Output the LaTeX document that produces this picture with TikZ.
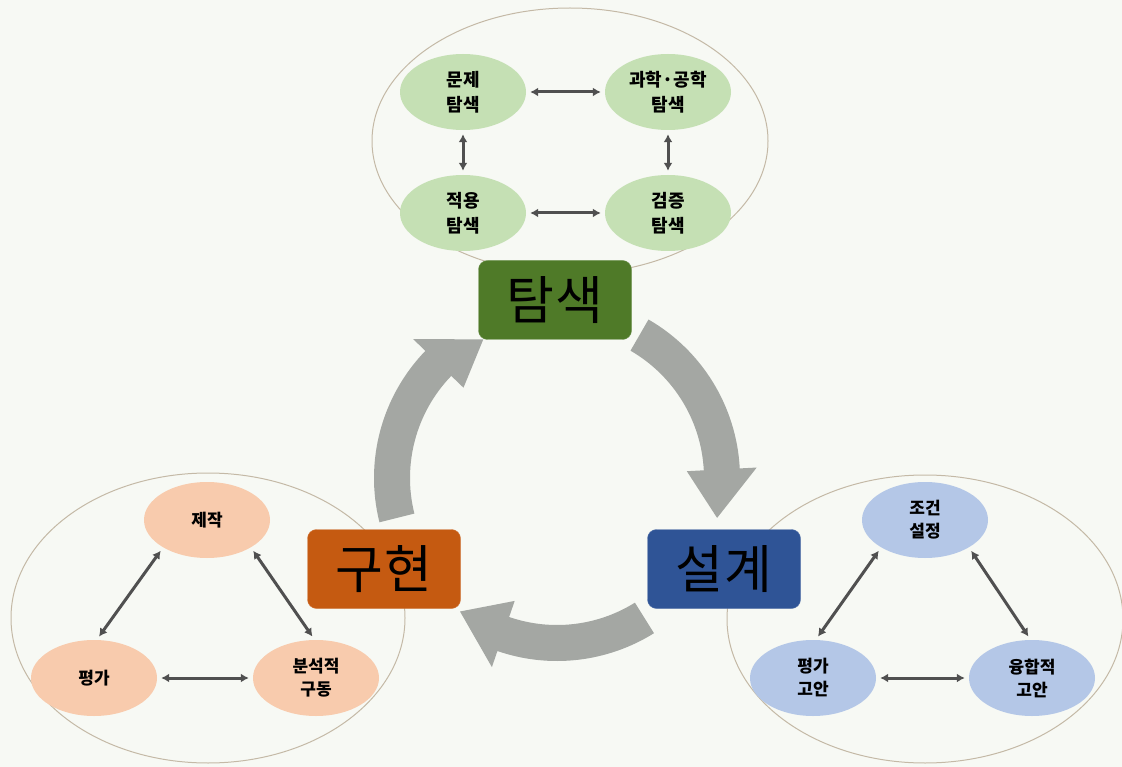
\documentclass[tikz,border=0pt]{standalone}
\usepackage{fontspec}
\setmainfont{Noto Sans CJK KR}
\usetikzlibrary{shapes.geometric,arrows.meta,calc}
\definecolor{bg}{HTML}{F7F9F4}
\definecolor{ring}{HTML}{C4B9A6}
\definecolor{subgreen}{HTML}{C5E0B4}
\definecolor{subpeach}{HTML}{F8CBAD}
\definecolor{subblue}{HTML}{B4C7E7}
\definecolor{boxgreen}{HTML}{4F7A28}
\definecolor{boxorange}{HTML}{C55A11}
\definecolor{boxblue}{HTML}{2F5496}
\definecolor{cyc}{HTML}{A4A7A3}
\definecolor{link}{HTML}{505050}
\tikzset{
  sub/.style={ellipse, minimum width=126pt, minimum height=76pt, inner sep=0pt, align=center,
    font=\bfseries\fontsize{18}{25}\selectfont},
  subs/.style={sub, font=\bfseries\fontsize{17}{23}\selectfont},
  bigbox/.style={rounded corners=9pt, minimum width=153pt, minimum height=79pt, inner sep=0pt,
    font=\fontsize{52}{52}\selectfont\addfontfeatures{LetterSpace=4}, text=black},
  ringline/.style={draw=ring, line width=1pt},
  link/.style={draw=link, line width=3pt, {Latex[length=8pt,width=9pt]}-{Latex[length=8pt,width=9pt]},
    shorten <=4pt, shorten >=4pt},
  cycarrow/.style={fill=cyc}
}
\begin{document}
\begin{tikzpicture}[x=1pt,y=-1pt]
\useasboundingbox (0,0) rectangle (1122,767);
\fill[bg] (0,0) rectangle (1122,767);

% outer rings
\draw[ringline] (570,141) ellipse [x radius=198, y radius=133];
\draw[ringline] (208,618) ellipse [x radius=197, y radius=145];
\draw[ringline] (925,619) ellipse [x radius=198, y radius=144];

% cycle arrows
\begin{scope}[shift={(557,478)}, yscale=-1]
  \foreach \a/\b/\t/\r in {60/3/-14/165, -58/-109/-126/165, 194/136/118/157}{
    \fill[cycarrow] (\a:183) arc[start angle=\a, end angle=\b, radius=183]
      -- (\b:200) -- (\t:\r) -- (\b:130) -- (\b:147)
      arc[start angle=\b, end angle=\a, radius=147] -- cycle;
  }
\end{scope}

% main boxes
\node[bigbox, fill=boxgreen, draw=boxgreen!80!white] (tamsaek) at (555,300) {탐색};
\node[bigbox, fill=boxorange, draw=boxorange!80!white] (guhyeon) at (384,569) {구현};
\node[bigbox, fill=boxblue, draw=boxblue!80!white] (seolgye) at (724,569) {설계};

% top cluster
\node[sub, fill=subgreen] (munje) at (463,92) {문제\\탐색};
\node[sub, fill=subgreen] (gwahak) at (668,92) {과학·공학\\탐색};
\node[sub, fill=subgreen] (jeogyong) at (463,213) {적용\\탐색};
\node[sub, fill=subgreen] (geomjeung) at (668,213) {검증\\탐색};
\draw[link] (munje) -- (gwahak);
\draw[link] (jeogyong) -- (geomjeung);
\draw[link] (munje) -- (jeogyong);
\draw[link] (gwahak) -- (geomjeung);

% bottom-left cluster
\node[subs, fill=subpeach] (jejak) at (207,520) {제작};
\node[subs, fill=subpeach] (pyeongga) at (94,678) {평가};
\node[subs, fill=subpeach] (bunseok) at (316,678) {분석적\\구동};
\draw[link] (jejak.212) -- (pyeongga.86);
\draw[link] (jejak.328) -- (bunseok.92);
\draw[link] (pyeongga) -- (bunseok);

% bottom-right cluster
\node[subs, fill=subblue] (jogeon) at (925,520) {조건\\설정};
\node[subs, fill=subblue] (pgoan) at (813,678) {평가\\고안};
\node[subs, fill=subblue] (yunghap) at (1032,678) {융합적\\고안};
\draw[link] (jogeon.212) -- (pgoan.86);
\draw[link] (jogeon.328) -- (yunghap.92);
\draw[link] (pgoan) -- (yunghap);
\end{tikzpicture}
\end{document}
